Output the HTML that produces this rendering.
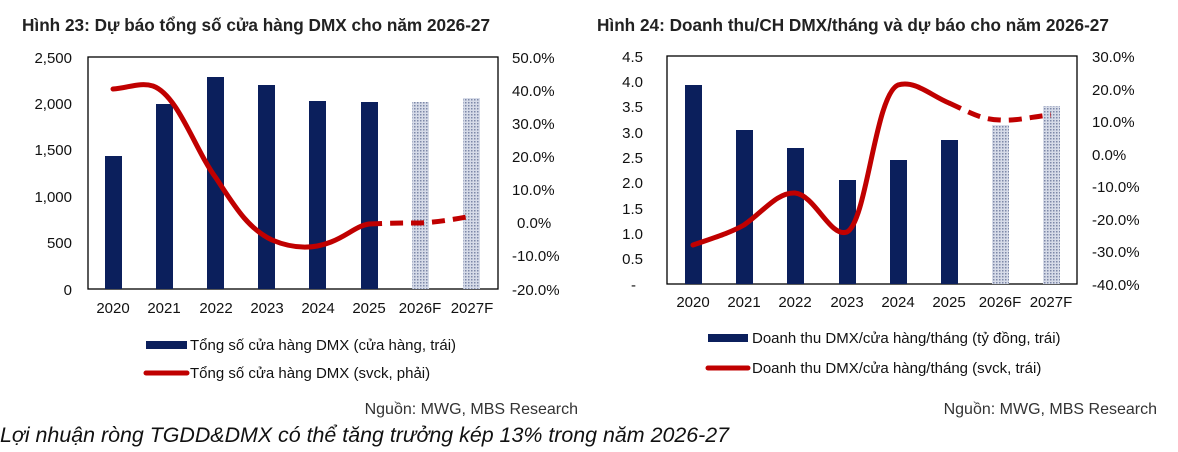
<!DOCTYPE html>
<html><head><meta charset="utf-8"><style>
html,body{margin:0;padding:0;background:#fff;}
svg{display:block;font-family:"Liberation Sans",Arial,sans-serif;}
</style></head><body>
<svg width="1178" height="452" viewBox="0 0 1178 452" xmlns="http://www.w3.org/2000/svg">
<defs>
<pattern id="dots" width="3" height="3" patternUnits="userSpaceOnUse">
<rect width="3" height="3" fill="#d6dbe8"/><rect width="1.5" height="1.5" fill="#7d88a8"/>
</pattern>
</defs>
<rect width="1178" height="452" fill="#fff"/>
<text x="22" y="31" font-size="17.2" font-weight="bold" fill="#222">Hình 23: Dự báo tổng số cửa hàng DMX cho năm 2026-27</text>
<text x="597" y="31" font-size="17.2" font-weight="bold" fill="#222">Hình 24: Doanh thu/CH DMX/tháng và dự báo cho năm 2026-27</text>

<!-- Chart 1 -->
<g font-size="15" fill="#111">
<rect x="88" y="57" width="410" height="232" fill="none" stroke="#000" stroke-width="1.3"/>
<g text-anchor="end">
<text x="72" y="63">2,500</text><text x="72" y="109">2,000</text><text x="72" y="155">1,500</text>
<text x="72" y="202">1,000</text><text x="72" y="248">500</text><text x="72" y="295">0</text>
</g>
<g>
<text x="512" y="63">50.0%</text><text x="512" y="96">40.0%</text><text x="512" y="129">30.0%</text>
<text x="512" y="162">20.0%</text><text x="512" y="195">10.0%</text><text x="517" y="228">0.0%</text>
<text x="512" y="261">-10.0%</text><text x="512" y="295">-20.0%</text>
</g>
<g fill="#0b1f5c">
<rect x="105" y="156" width="17" height="133"/><rect x="156" y="104" width="17" height="185"/>
<rect x="207" y="77" width="17" height="212"/><rect x="258" y="85" width="17" height="204"/>
<rect x="309" y="101" width="17" height="188"/><rect x="361" y="102" width="17" height="187"/>
</g>
<rect x="412" y="102" width="17" height="187" fill="url(#dots)"/>
<rect x="463" y="98" width="17" height="191" fill="url(#dots)"/>
<g text-anchor="middle">
<text x="113" y="313">2020</text><text x="164" y="313">2021</text><text x="216" y="313">2022</text>
<text x="267" y="313">2023</text><text x="318" y="313">2024</text><text x="369" y="313">2025</text>
<text x="420" y="313">2026F</text><text x="472" y="313">2027F</text>
</g>
<path d="M113,89 C128,88 140,82 153,86 C178,95 195,150 216,178 C234,205 247,228 272,240 C291,248 311,250 331,242 C347,236 356,226 369,224" fill="none" stroke="#c00000" stroke-width="5" stroke-linecap="round"/>
<path d="M369,224 C389,223 405,223 420,223 C439,222 456,219 472,216" fill="none" stroke="#c00000" stroke-width="5" stroke-dasharray="13,8"/>
<rect x="146" y="341" width="41" height="8" fill="#0b1f5c"/>
<text x="190" y="350">Tổng số cửa hàng DMX (cửa hàng, trái)</text>
<line x1="146" y1="373" x2="187" y2="373" stroke="#c00000" stroke-width="5" stroke-linecap="round"/>
<text x="190" y="378">Tổng số cửa hàng DMX (svck, phải)</text>
<text x="578" y="414" text-anchor="end" font-size="16" fill="#333">Nguồn: MWG, MBS Research</text>
</g>

<!-- Chart 2 -->
<g font-size="15" fill="#111">
<rect x="667" y="56" width="410" height="228" fill="none" stroke="#000" stroke-width="1.3"/>
<g text-anchor="end">
<text x="643" y="62">4.5</text><text x="643" y="87">4.0</text><text x="643" y="112">3.5</text>
<text x="643" y="138">3.0</text><text x="643" y="163">2.5</text><text x="643" y="188">2.0</text>
<text x="643" y="214">1.5</text><text x="643" y="239">1.0</text><text x="643" y="264">0.5</text>
<text x="636" y="290">-</text>
</g>
<g>
<text x="1092" y="62">30.0%</text><text x="1092" y="95">20.0%</text><text x="1092" y="127">10.0%</text>
<text x="1092" y="160">0.0%</text><text x="1092" y="192">-10.0%</text><text x="1092" y="225">-20.0%</text>
<text x="1092" y="257">-30.0%</text><text x="1092" y="290">-40.0%</text>
</g>
<g fill="#0b1f5c">
<rect x="685" y="85" width="17" height="199"/><rect x="736" y="130" width="17" height="154"/>
<rect x="787" y="148" width="17" height="136"/><rect x="839" y="180" width="17" height="104"/>
<rect x="890" y="160" width="17" height="124"/><rect x="941" y="140" width="17" height="144"/>
</g>
<rect x="992" y="125" width="17" height="159" fill="url(#dots)"/>
<rect x="1043" y="106" width="17" height="178" fill="url(#dots)"/>
<g text-anchor="middle">
<text x="693" y="307">2020</text><text x="744" y="307">2021</text><text x="795" y="307">2022</text>
<text x="847" y="307">2023</text><text x="898" y="307">2024</text><text x="949" y="307">2025</text>
<text x="1000" y="307">2026F</text><text x="1051" y="307">2027F</text>
</g>
<path d="M693,245 C713,238 730,233 744,225 C763,212 777,192 795,193 C815,195 830,238 847,232 C867,222 875,95 898,85 C915,80 930,95 949,103" fill="none" stroke="#c00000" stroke-width="5" stroke-linecap="round"/>
<path d="M949,103 C969,112 982,120 1000,120 C1019,121 1035,116 1051,115" fill="none" stroke="#c00000" stroke-width="5" stroke-dasharray="13,8"/>
<rect x="708" y="334" width="40" height="8" fill="#0b1f5c"/>
<text x="752" y="343">Doanh thu DMX/cửa hàng/tháng (tỷ đồng, trái)</text>
<line x1="708" y1="368" x2="748" y2="368" stroke="#c00000" stroke-width="5" stroke-linecap="round"/>
<text x="752" y="373">Doanh thu DMX/cửa hàng/tháng (svck, trái)</text>
<text x="1157" y="414" text-anchor="end" font-size="16" fill="#333">Nguồn: MWG, MBS Research</text>
</g>
<text x="0" y="442" font-size="21.4" font-style="italic" fill="#111">Lợi nhuận ròng TGDD&amp;DMX có thể tăng trưởng kép 13% trong năm 2026-27</text>
</svg>
</body></html>
